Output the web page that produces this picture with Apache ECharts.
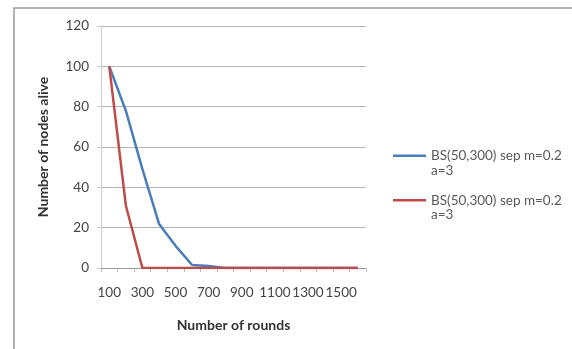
<!DOCTYPE html>
<html>
<head>
<meta charset="utf-8">
<script src="https://cdn.jsdelivr.net/npm/echarts@6/dist/echarts.min.js"></script>
<style>html,body{margin:0;padding:0;background:#fff}#c{width:572px;height:349px}</style>
</head>
<body>
<div id="c"></div>
<script>
const categories = ['100','200','300','400','500','600','700','800','900','1000','1100','1200','1300','1400','1500','1600'];
const blueValues = [100, 78, 49, 22, 11, 1.5, 1, 0, 0, 0, 0, 0, 0, 0, 0, 0];
const redValues  = [100, 31, 0, 0, 0, 0, 0, 0, 0, 0, 0, 0, 0, 0, 0, 0];
const seriesNames = ['BS(50,300) sep m=0.2\na=3', 'BS(50,300) sep m=0.2\na=3 '];
const yTitle = 'Number of nodes alive';
const xTitle = 'Number of rounds';

const font = 'Lato, "Open Sans", sans-serif';
const chart = echarts.init(document.getElementById('c'), null, {renderer: 'canvas'});
chart.setOption({
  animation: false,
  backgroundColor: '#fff',
  graphic: [{
    type: 'rect', shape: {x: 14, y: 8, width: 600, height: 400},
    style: {fill: 'none', stroke: '#9a9a9a', lineWidth: 1.5}, silent: true
  }],
  grid: {left: 101, right: 206, top: 26, bottom: 81},
  legend: {
    orient: 'vertical', left: 388, top: 129,
    itemWidth: 33, itemHeight: 10, itemGap: 1,
    icon: 'path://M0,4 L33,4 L33,6.5 L0,6.5 Z',
    data: seriesNames,
    formatter: function (name) { return ' \n' + name.trim(); },
    textStyle: {fontFamily: font, fontSize: 13.5, color: '#595959', lineHeight: 14.5}
  },
  xAxis: {
    type: 'category', data: categories, boundaryGap: true,
    name: xTitle, nameLocation: 'middle', nameGap: 50,
    nameTextStyle: {fontFamily: font, fontSize: 14, fontWeight: 'bold', color: '#333'},
    axisLine: {lineStyle: {color: '#999', width: 1}},
    axisTick: {show: true, interval: 0, length: 4, lineStyle: {color: '#bbb'}},
    axisLabel: {interval: 1, fontFamily: font, fontSize: 13.5, color: '#444', margin: 18}
  },
  yAxis: {
    type: 'value', min: 0, max: 120, interval: 20,
    name: yTitle, nameLocation: 'middle', nameGap: 51,
    nameTextStyle: {fontFamily: font, fontSize: 14, fontWeight: 'bold', color: '#333'},
    axisLine: {show: true, lineStyle: {color: '#ccc'}},
    axisTick: {show: true, length: 4, lineStyle: {color: '#ccc'}},
    axisLabel: {fontFamily: font, fontSize: 13.5, color: '#444', margin: 12},
    splitLine: {lineStyle: {color: '#b5b5b5', width: 1}}
  },
  series: [
    {name: seriesNames[0], type: 'line', data: blueValues, symbol: 'none',
     lineStyle: {color: '#4a7ebb', width: 2.5}, itemStyle: {color: '#4a7ebb'}},
    {name: seriesNames[1], type: 'line', data: redValues, symbol: 'none',
     lineStyle: {color: '#be4b48', width: 2.5}, itemStyle: {color: '#be4b48'}}
  ]
});
</script>
</body>
</html>
